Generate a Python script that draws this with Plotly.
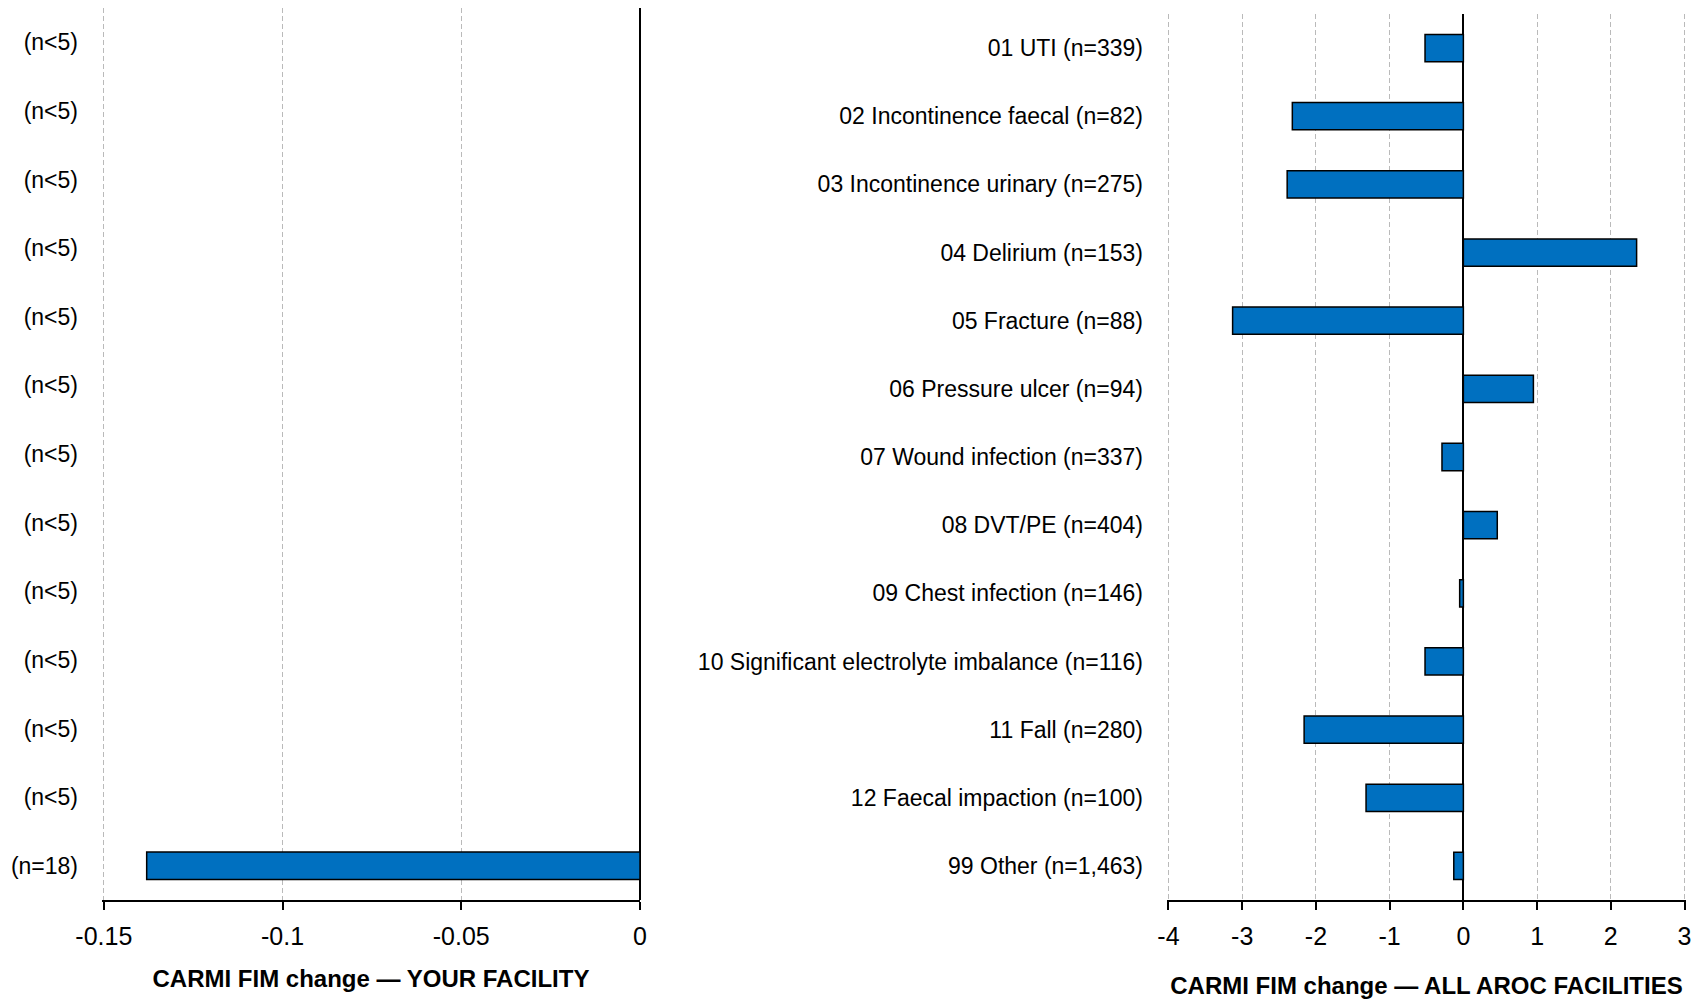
import plotly.graph_objects as go

# ---- data ----
left_labels = ["(n<5)"] * 12 + ["(n=18)"]
left_values = [None, None, None, None, None, None, None, None, None, None, None, None, -0.138]

right_labels = [
    "01 UTI (n=339)",
    "02 Incontinence faecal (n=82)",
    "03 Incontinence urinary (n=275)",
    "04 Delirium (n=153)",
    "05 Fracture (n=88)",
    "06 Pressure ulcer (n=94)",
    "07 Wound infection (n=337)",
    "08 DVT/PE (n=404)",
    "09 Chest infection (n=146)",
    "10 Significant electrolyte imbalance (n=116)",
    "11 Fall (n=280)",
    "12 Faecal impaction (n=100)",
    "99 Other (n=1,463)",
]
right_values = [-0.52, -2.32, -2.39, 2.35, -3.13, 0.95, -0.29, 0.46, -0.05, -0.52, -2.16, -1.32, -0.13]

left_xticks = [-0.15, -0.1, -0.05, 0]
left_xticktext = ["-0.15", "-0.1", "-0.05", "0"]
right_xticks = [-4, -3, -2, -1, 0, 1, 2, 3]
right_xticktext = ["-4", "-3", "-2", "-1", "0", "1", "2", "3"]

left_title = "CARMI FIM change \u2014 YOUR FACILITY"
right_title = "CARMI FIM change \u2014 ALL AROC FACILITIES"

# ---- styling ----
FONT = "Liberation Sans, Arial, sans-serif"
BAR_COLOR = "#0070C0"
GRID = "#bababa"

# page body has an 8px margin; lay out in page pixels
OFF = 8
W, H = 1702 - OFF, 1000 - OFF


def xdom(a, b):
    return [(a - OFF) / W, (b - OFF) / W]


def ydom(top, bottom):
    return [max(0.0, 1 - (bottom - OFF) / H), min(1.0, 1 - (top - OFF) / H)]


left_pos = list(range(len(left_labels)))
right_pos = list(range(len(right_labels)))

fig = go.Figure()
fig.add_trace(go.Bar(
    x=left_values, y=left_pos, orientation="h",
    marker=dict(color=BAR_COLOR, line=dict(color="black", width=1.5)),
    width=0.40, xaxis="x", yaxis="y", showlegend=False,
))
fig.add_trace(go.Bar(
    x=right_values, y=right_pos, orientation="h",
    marker=dict(color=BAR_COLOR, line=dict(color="black", width=1.5)),
    width=0.40, xaxis="x2", yaxis="y2", showlegend=False,
))

xcommon = dict(
    showgrid=True, gridcolor=GRID, griddash="5px,3px", gridwidth=1,
    showline=True, linecolor="black", linewidth=1.5,
    ticks="outside", ticklen=8, tickcolor="black", tickwidth=1.5,
    zeroline=True, zerolinecolor="black", zerolinewidth=1.5,
    tickfont=dict(family=FONT, size=25, color="black"),
    title_font=dict(family=FONT, size=24, color="black"),
    ticklabelstandoff=5,
    automargin=False, fixedrange=True,
)
ycommon = dict(
    showgrid=False, showline=False, ticks="", zeroline=False,
    autorange=False, automargin=False, fixedrange=True,
    tickfont=dict(family=FONT, size=23, color="black"),
    ticklabelstandoff=23,
)

fig.update_layout(
    width=W, height=H,
    margin=dict(l=0, r=0, t=0, b=0, autoexpand=False),
    paper_bgcolor="white", plot_bgcolor="white",
    font=dict(family=FONT, color="black"),
    bargap=0.6,
    xaxis=dict(domain=xdom(102, 640), range=[-0.1505, 0],
               tickvals=left_xticks, ticktext=left_xticktext,
               title=dict(text="<b>" + left_title + "</b>", standoff=21),
               anchor="y", **xcommon),
    yaxis=dict(domain=ydom(6, 900), range=[len(left_labels) - 0.5, -0.5],
               tickvals=left_pos, ticktext=left_labels, anchor="x", **ycommon),
    xaxis2=dict(domain=xdom(1167, 1686), range=[-4.02, 3.02],
                tickvals=right_xticks, ticktext=right_xticktext,
                title=dict(text="<b>" + right_title + "</b>", standoff=28),
                anchor="y2", **xcommon),
    yaxis2=dict(domain=ydom(14, 900), range=[len(right_labels) - 0.5, -0.5],
                tickvals=right_pos, ticktext=right_labels, anchor="x2", **ycommon),
)

fig.write_html("out.html")
